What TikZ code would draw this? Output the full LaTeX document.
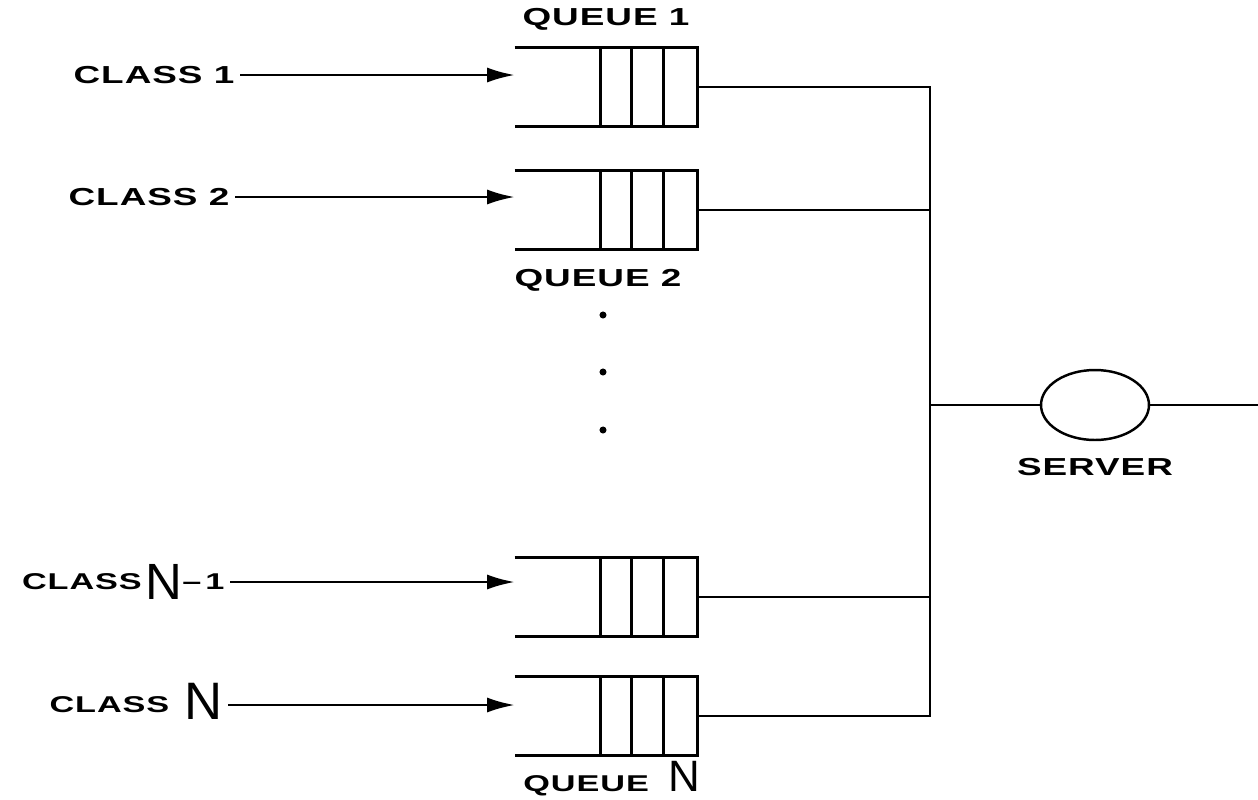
\documentclass[tikz,border=0pt]{standalone}
\usepackage{fontspec}
\usepackage{tikz}
\usetikzlibrary{arrows.meta,positioning,shapes.geometric}
\newfontfamily\qlabelfont[FakeStretch=1.5,LetterSpace=4]{Liberation Sans}
\newfontfamily\qbigfont{Liberation Sans}
\newcommand{\qN}[2]{\smash{\raisebox{-#2}{\qbigfont\mdseries\fontsize{#1}{#1}\selectfont N}}}
\tikzset{
  lbl/.style={font=\qlabelfont\bfseries\fontsize{14}{14}\selectfont,inner sep=3pt},
  lbls/.style={font=\qlabelfont\bfseries\fontsize{13}{13}\selectfont,inner sep=3pt},
  qbox/.style={minimum width=3.64cm,minimum height=1.56cm,inner sep=0pt},
  qline/.style={line width=1.6pt,draw=black},
  inarr/.style={-{Latex[length=0.55cm,width=0.3cm]},line width=1.4pt},
  wire/.style={line width=1.2pt},
  srvshape/.style={ellipse,draw,line width=1.4pt,minimum width=2.16cm,minimum height=1.4cm},
  dotn/.style={circle,fill,inner sep=0pt,minimum size=4pt},
}
\begin{document}
\begin{tikzpicture}[x=0.02cm,y=-0.02cm]
  \useasboundingbox (0,0) rectangle (1258,799);
  % queues
  \node[qbox] (q1) at (606,87) {};
  \node[qbox] (q2) at (606,210) {};
  \node[qbox] (qm) at (606,597) {};
  \node[qbox] (qn) at (606,716) {};
  \foreach \q in {q1,q2,qm,qn}{
    \draw[qline] (\q.north west) -- (\q.north east) -- (\q.south east) -- (\q.south west);
    \foreach \dx in {1.72,2.34,2.98}
      \draw[qline] ([xshift=\dx cm]\q.north west) -- ([xshift=\dx cm]\q.south west);
  }
  \node[lbl,above=0.24cm of q1] (ql1) {QUEUE 1};
  \node[lbl,below=0.28cm of q2,xshift=-0.16cm] (ql2) {QUEUE 2};
  \node[lbls,below=0.3cm of qn,xshift=0.12cm] (qln) {QUEUE\hspace{0.4cm}\qN{25}{0pt}};
  % waiting dots
  \node[dotn] (d1) at (603,315) {};
  \node[dotn] (d2) at (603,372) {};
  \node[dotn] (d3) at (603,430) {};
  % arriving classes
  \node[lbl,anchor=east] (c1) at (240,75) {CLASS 1};
  \node[lbl,anchor=east] (c2) at (235,197) {CLASS 2};
  \node[lbls,anchor=east] (cm) at (230,582) {CLASS\,\qN{29}{5.5pt}–\,1};
  \node[lbls,anchor=east] (cn) at (228,705) {CLASS\hspace{0.3cm}\qN{30}{4pt}};
  \draw[inarr] (c1) -- (c1 -| q1.west);
  \draw[inarr] (c2) -- (c2 -| q2.west);
  \draw[inarr] (cm) -- (cm -| qm.west);
  \draw[inarr] (cn) -- (cn -| qn.west);
  % server
  \coordinate (jn) at (930,405);
  \node[srvshape] (srv) at (1095,405) {};
  \node[lbl,below=0.22cm of srv] (srvl) {SERVER};
  \coordinate (out) at (1258,405);
  \draw[wire] (q1.east) -- (q1.east -| jn) -- (qn.east -| jn) -- (qn.east);
  \draw[wire] (q2.east) -- (q2.east -| jn);
  \draw[wire] (qm.east) -- (qm.east -| jn);
  \draw[wire] (jn) -- (srv);
  \draw[wire] (srv) -- (out);
\end{tikzpicture}
\end{document}
